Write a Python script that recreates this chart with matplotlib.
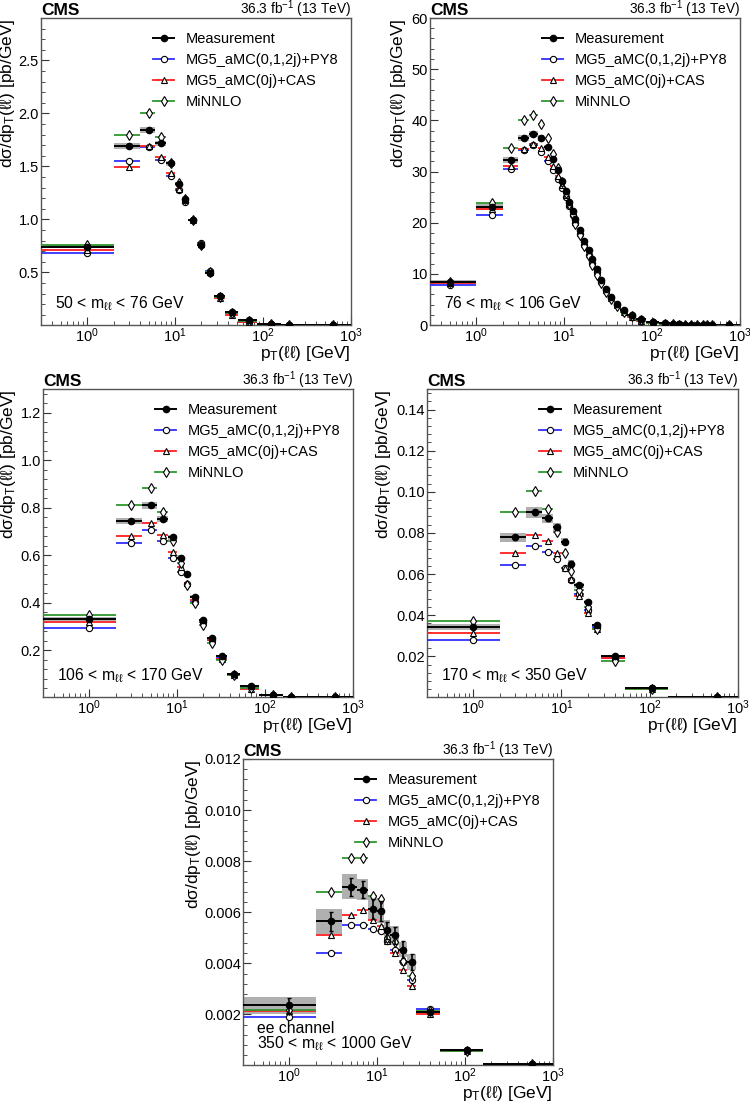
"""CMS dsigma/dpT(ll) in mass bins, data vs MC predictions"""
import numpy as np
import matplotlib
matplotlib.use("Agg")
import matplotlib.pyplot as plt
from matplotlib.lines import Line2D
from matplotlib.ticker import AutoMinorLocator, FixedLocator, FormatStrFormatter, LogLocator, NullFormatter

plt.rcParams['font.family'] = ['Liberation Sans', 'DejaVu Sans']
plt.rcParams['mathtext.fontset'] = 'custom'
plt.rcParams['mathtext.rm'] = 'Liberation Sans'
plt.rcParams['mathtext.it'] = 'Liberation Sans:italic'
plt.rcParams['mathtext.bf'] = 'Liberation Sans:bold'

# ---- bin edges (GeV) ----
edges_low = [0, 2, 4, 6, 8, 10, 12, 14, 18, 22, 28, 37, 52, 85, 160, 240, 1000]
edges_peak = [0, 1, 2, 3, 4, 5, 6, 7, 8, 9, 10, 11, 12, 13, 14, 16, 18, 20, 22, 25, 28,
              32, 37, 43, 52, 65, 85, 120, 160, 190, 220, 250, 300, 350, 400, 450, 500, 1000]
edges_high = [0, 2, 4, 6, 8, 10, 12, 14, 18, 22, 28, 52, 160, 1000]

# ---- 50 < mll < 76 GeV ----
meas1 = [0.74, 1.69, 1.843, 1.717, 1.528, 1.333, 1.19, 0.994, 0.762, 0.497, 0.277, 0.129, 0.046, 0.013, 0.005, 0.0012]
stat1 = [0.006, 0.012, 0.012, 0.011, 0.01, 0.009, 0.008, 0.006, 0.005, 0.004, 0.003, 0.0015, 0.0008, 0.0003, 0.0002, 0.0001]
syst1 = [0.015, 0.028, 0.025, 0.022, 0.02, 0.018, 0.015, 0.012, 0.01, 0.008, 0.006, 0.003, 0.0015, 0.0005, 0.0002, 0.0001]
mg1 = [0.686, 1.553, 1.686, 1.56, 1.409, 1.277, 1.16, 0.99, 0.78, 0.51, 0.28, 0.115, 0.035, 0.011, 0.004, 0.001]
cas1 = [0.71, 1.497, 1.69, 1.59, 1.44, 1.29, 1.18, 0.99, 0.77, 0.50, 0.262, 0.10, 0.03, 0.009, 0.0035, 0.0009]
mn1 = [0.758, 1.796, 2.0, 1.78, 1.53, 1.34, 1.19, 0.99, 0.76, 0.50, 0.27, 0.12, 0.04, 0.012, 0.0045, 0.0011]

# ---- 76 < mll < 106 GeV ----
meas2 = [8.5, 23.0, 32.2, 36.6, 37.3, 36.6, 34.7, 32.5, 30.3, 28.2, 26.1, 24.1, 22.2, 20.7, 18.6, 16.5,
         14.7, 12.9, 10.9, 8.8, 7.0, 5.5, 4.2, 2.95, 2.0, 1.15, 0.6, 0.3, 0.18, 0.12, 0.08, 0.05,
         0.03, 0.018, 0.011, 0.007, 0.002]
stat2 = [0.1, 0.2, 0.25, 0.25, 0.25, 0.25, 0.24, 0.22, 0.2, 0.2, 0.18, 0.17, 0.16, 0.15, 0.1, 0.1,
         0.09, 0.08, 0.07, 0.06, 0.05, 0.04, 0.03, 0.02, 0.015, 0.01, 0.005, 0.003, 0.002, 0.002, 0.001,
         0.001, 0.001, 0.0005, 0.0005, 0.0004, 0.0001]
syst2 = [0.3, 0.6, 0.6, 0.6, 0.6, 0.6, 0.55, 0.5, 0.5, 0.45, 0.45, 0.4, 0.4, 0.35, 0.3, 0.3,
         0.25, 0.25, 0.2, 0.18, 0.14, 0.11, 0.09, 0.07, 0.05, 0.03, 0.02, 0.01, 0.008, 0.006, 0.004,
         0.003, 0.002, 0.001, 0.001, 0.0008, 0.0003]
mg2 = [7.8, 21.5, 30.5, 34.2, 35.1, 33.8, 32.1, 30.3, 28.6, 26.7, 25.0, 23.2, 21.5, 20.0, 17.8, 15.7,
       13.7, 12.1, 10.3, 8.5, 6.85, 5.2, 3.9, 2.7, 1.8, 1.0, 0.5, 0.26, 0.16, 0.1, 0.07, 0.045,
       0.027, 0.016, 0.01, 0.006, 0.0018]
cas2 = [8.3, 22.6, 31.1, 34.4, 35.4, 34.6, 32.9, 31.1, 29.2, 27.4, 25.4, 23.7, 21.9, 20.2, 18.1, 16.1,
        14.2, 12.4, 10.4, 8.7, 6.85, 5.35, 3.9, 2.6, 1.6, 0.85, 0.4, 0.2, 0.12, 0.08, 0.05, 0.03,
        0.018, 0.011, 0.007, 0.004, 0.0012]
mn2 = [8.5, 23.9, 34.6, 40.0, 41.1, 39.3, 36.5, 33.5, 30.7, 27.9, 25.8, 23.7, 21.5, 19.8, 17.6, 15.5,
       13.5, 11.7, 9.8, 8.15, 6.5, 5.1, 3.8, 2.6, 1.7, 0.95, 0.45, 0.22, 0.14, 0.09, 0.06, 0.035,
       0.021, 0.013, 0.008, 0.005, 0.0015]

# ---- 106 < mll < 170 GeV ----
meas3 = [0.331, 0.745, 0.81, 0.754, 0.675, 0.59, 0.523, 0.425, 0.327, 0.252, 0.175, 0.101, 0.048, 0.013, 0.005, 0.0012]
stat3 = [0.004, 0.008, 0.008, 0.008, 0.007, 0.006, 0.006, 0.004, 0.004, 0.003, 0.002, 0.0015, 0.0008, 0.0003, 0.0002, 0.00005]
syst3 = [0.008, 0.013, 0.014, 0.012, 0.01, 0.009, 0.007, 0.006, 0.005, 0.004, 0.003, 0.002, 0.0012, 0.0004, 0.0002, 0.00005]
mg3 = [0.294, 0.653, 0.706, 0.658, 0.59, 0.531, 0.477, 0.404, 0.32, 0.242, 0.168, 0.097, 0.045, 0.012, 0.0045, 0.001]
cas3 = [0.317, 0.683, 0.735, 0.686, 0.613, 0.552, 0.482, 0.411, 0.323, 0.242, 0.165, 0.094, 0.038, 0.011, 0.004, 0.001]
mn3 = [0.35, 0.81, 0.883, 0.784, 0.66, 0.566, 0.475, 0.397, 0.306, 0.232, 0.158, 0.094, 0.041, 0.011, 0.0042, 0.001]

# ---- 170 < mll < 350 GeV ----
meas4 = [0.0342, 0.0778, 0.090, 0.0871, 0.0827, 0.0757, 0.0651, 0.0545, 0.0464, 0.035, 0.0200, 0.0044, 0.0002]
stat4 = [0.0008, 0.0012, 0.0013, 0.0013, 0.0013, 0.0012, 0.0011, 0.0009, 0.0008, 0.0006, 0.0003, 0.0001, 0.00001]
syst4 = [0.0016, 0.002, 0.0027, 0.0022, 0.002, 0.0018, 0.0015, 0.0013, 0.0009, 0.0007, 0.0004, 0.0002, 0.00002]
mg4 = [0.0277, 0.0646, 0.0737, 0.0708, 0.0672, 0.0627, 0.0573, 0.0504, 0.0426, 0.0342, 0.0193, 0.0044, 0.0002]
cas4 = [0.0314, 0.070, 0.079, 0.0762, 0.070, 0.0627, 0.0574, 0.0491, 0.041, 0.0334, 0.019, 0.0041, 0.00018]
mn4 = [0.0371, 0.090, 0.1004, 0.0916, 0.0806, 0.0703, 0.0615, 0.0521, 0.0439, 0.0334, 0.0179, 0.0039, 0.00018]

# ---- 350 < mll < 1000 GeV, ee channel ----
meas5 = [0.00235, 0.00565, 0.0070, 0.00689, 0.00613, 0.00604, 0.00529, 0.00509, 0.00453, 0.00405, 0.00209, 0.00059, 0.00004]
stat5 = [0.0003, 0.00037, 0.00036, 0.00035, 0.00039, 0.0004, 0.00033, 0.00033, 0.00034, 0.00033, 0.00005, 0.00003, 0.00001]
syst5 = [0.00034, 0.00049, 0.00049, 0.00042, 0.00045, 0.00045, 0.0004, 0.00036, 0.0003, 0.00033, 0.00006, 0.00002, 0.000005]
mg5 = [0.0019, 0.0044, 0.00552, 0.00552, 0.00534, 0.00526, 0.00487, 0.00453, 0.00405, 0.00333, 0.00222, 0.00059, 0.00004]
cas5 = [0.00213, 0.00509, 0.00591, 0.00609, 0.0057, 0.00548, 0.00489, 0.0044, 0.00372, 0.0031, 0.002, 0.00057, 0.00004]
mn5 = [0.00218, 0.00678, 0.00811, 0.00813, 0.00665, 0.00652, 0.0050, 0.00483, 0.00411, 0.00349, 0.00213, 0.00058, 0.00004]

BLUE = '#3030ff'
RED = '#ff2020'
GREEN = '#2f962f'
GRAY = '#b0b0b0'
FRAME = '#555555'

LEG_LABELS = ['Measurement', 'MG5_aMC(0,1,2j)+PY8', 'MG5_aMC(0j)+CAS', 'MiNNLO']
YLABEL = r'd$\mathrm{\sigma}$/dp$_\mathrm{T}$($\mathrm{\ell\ell}$) [pb/GeV]'
XLABEL = r'p$_\mathrm{T}$($\mathrm{\ell\ell}$) [GeV]'


def draw_panel(ax, edges, meas, stat, syst, mg, cas, mn, ylim, yticks, yfmt,
               labels, ylabel_x):
    edges = np.asarray(edges, float)
    lo = np.maximum(edges[:-1], 1e-3)
    hi = edges[1:]
    c = 0.5 * (edges[:-1] + edges[1:])
    xerr = [c - lo, hi - c]
    meas = np.asarray(meas)
    syst = np.asarray(syst)

    # total uncertainty boxes
    ax.bar(lo, 2 * syst, width=hi - lo, bottom=meas - syst, align='edge',
           color=GRAY, lw=0, zorder=1)

    for vals, col, mk, ms in [(mg, BLUE, 'o', 4.5), (cas, RED, '^', 4.8), (mn, GREEN, 'd', 5.5)]:
        ax.errorbar(c, vals, xerr=xerr, fmt=mk, color=col, mfc='white', mec='black',
                    mew=0.8, ms=ms, elinewidth=1.3, capsize=0, zorder=3)

    ax.errorbar(c, meas, yerr=stat, fmt='none', ecolor='black', elinewidth=1.2,
                capsize=1.5, capthick=1.0, zorder=4)
    ax.errorbar(c, meas, xerr=xerr, fmt='o', color='black', ms=4.5,
                elinewidth=1.4, capsize=0, zorder=5)

    ax.set_xscale('log')
    ax.set_xlim(0.3, 1000)
    ax.xaxis.set_major_locator(LogLocator(base=10))
    ax.xaxis.set_minor_locator(LogLocator(base=10, subs=np.arange(2, 10)))
    ax.xaxis.set_minor_formatter(NullFormatter())
    ax.set_ylim(*ylim)
    ax.yaxis.set_major_locator(FixedLocator(yticks))
    ax.yaxis.set_major_formatter(FormatStrFormatter(yfmt))
    ax.yaxis.set_minor_locator(AutoMinorLocator(5))

    ax.tick_params(which='both', direction='in', top=False, right=False,
                   labelsize=10.5, color='#333333')
    ax.tick_params(which='major', length=6)
    ax.tick_params(which='minor', length=3)
    ax.tick_params(axis='x', pad=1)
    ax.tick_params(axis='y', pad=1.5)
    for sp in ax.spines.values():
        sp.set_color(FRAME)
        sp.set_linewidth(1.0)

    ax.set_ylabel(YLABEL, fontsize=12.5, loc='top')
    ax.yaxis.set_label_coords(ylabel_x, 1.0)
    ax.set_xlabel(XLABEL, fontsize=12.5, loc='right')
    ax.xaxis.set_label_coords(1.0, -0.063)

    ax.text(0.0, 1.01, 'CMS', transform=ax.transAxes, fontsize=12.5,
            fontweight='bold', ha='left', va='baseline')
    ax.text(1.0, 1.012, r'36.3 fb$^{-1}$ (13 TeV)', transform=ax.transAxes,
            fontsize=9.8, ha='right', va='baseline')

    y = 0.07 + 0.049 * (len(labels) - 1)
    for lab in labels:
        ax.text(0.045, y, lab, transform=ax.transAxes, fontsize=11.3,
                ha='left', va='center')
        y -= 0.049

    handles = [
        Line2D([], [], color='black', marker='o', ms=4.5, lw=1.4),
        Line2D([], [], color=BLUE, marker='o', ms=4.5, mfc='white', mec='black', mew=0.8, lw=1.3),
        Line2D([], [], color=RED, marker='^', ms=4.8, mfc='white', mec='black', mew=0.8, lw=1.3),
        Line2D([], [], color=GREEN, marker='d', ms=5.5, mfc='white', mec='black', mew=0.8, lw=1.3),
    ]
    ax.legend(handles, LEG_LABELS, loc='upper left', bbox_to_anchor=(0.36, 0.955),
              frameon=False, fontsize=10.5, handlelength=1.5, handletextpad=0.8,
              labelspacing=0.48, borderpad=0, borderaxespad=0)


fig = plt.figure(figsize=(7.5, 11.05), dpi=100)
W, H = 750.0, 1105.0


def add_axes(left, top, right, bottom):
    return fig.add_axes([left / W, 1 - bottom / H, (right - left) / W, (bottom - top) / H])


ax1 = add_axes(41, 18, 351, 325)
ax2 = add_axes(430, 18, 740, 325)
ax3 = add_axes(43, 389, 353, 697)
ax4 = add_axes(427, 389, 738, 697)
ax5 = add_axes(243, 759, 553, 1065)

draw_panel(ax1, edges_low, meas1, stat1, syst1, mg1, cas1, mn1, (0.003, 2.9),
           [0.5, 1.0, 1.5, 2.0, 2.5], '%.1f',
           [r'50 < m$_{\mathrm{\ell\ell}}$ < 76 GeV'], -0.077)
draw_panel(ax2, edges_peak, meas2, stat2, syst2, mg2, cas2, mn2, (0, 60),
           [0, 10, 20, 30, 40, 50, 60], '%d',
           [r'76 < m$_{\mathrm{\ell\ell}}$ < 106 GeV'], -0.071)
draw_panel(ax3, edges_low, meas3, stat3, syst3, mg3, cas3, mn3, (0.003, 1.3),
           [0.2, 0.4, 0.6, 0.8, 1.0, 1.2], '%.1f',
           [r'106 < m$_{\mathrm{\ell\ell}}$ < 170 GeV'], -0.08)
draw_panel(ax4, edges_high, meas4, stat4, syst4, mg4, cas4, mn4, (0.0002, 0.15),
           [0.02, 0.04, 0.06, 0.08, 0.10, 0.12, 0.14], '%.2f',
           [r'170 < m$_{\mathrm{\ell\ell}}$ < 350 GeV'], -0.109)
draw_panel(ax5, edges_high, meas5, stat5, syst5, mg5, cas5, mn5, (0.00002, 0.012),
           [0.002, 0.004, 0.006, 0.008, 0.010, 0.012], '%.3f',
           ['ee channel', r'350 < m$_{\mathrm{\ell\ell}}$ < 1000 GeV'], -0.129)

fig.savefig('out.png', dpi=100)
